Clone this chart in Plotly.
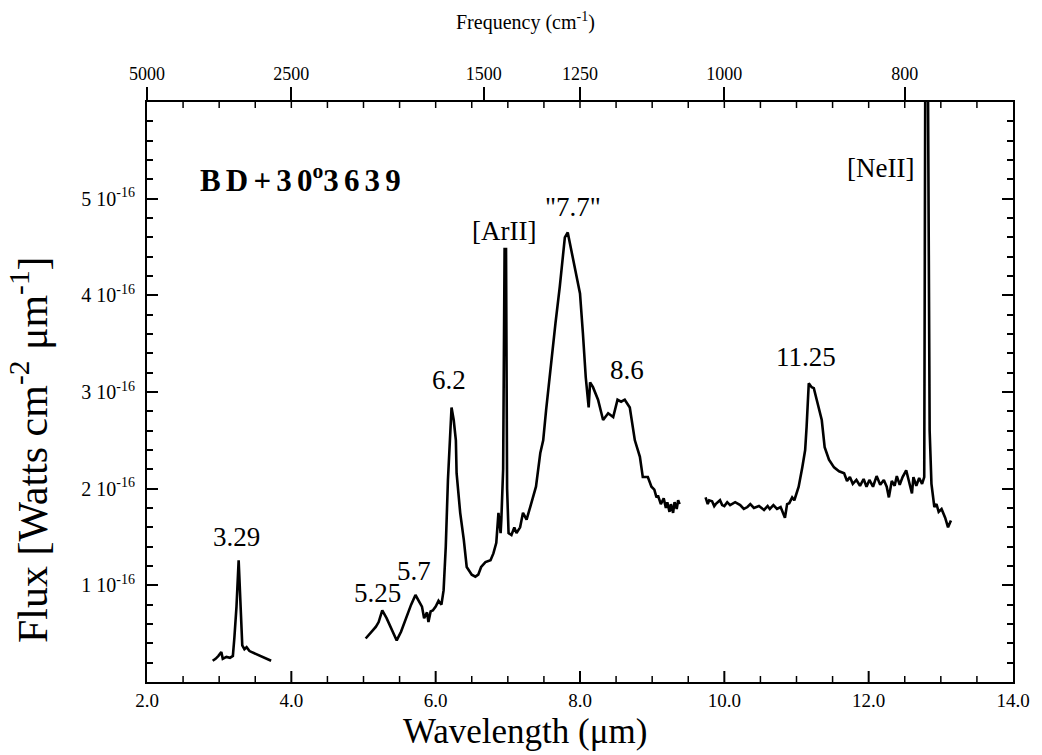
import numpy as np
import plotly.graph_objects as go

# ---- data (flux in units of 1e-16 W cm^-2 um^-1, wavelength in um) ----
wl_a = [2.91, 2.95, 2.99, 3.03, 3.05, 3.10, 3.15, 3.19, 3.21, 3.24, 3.27, 3.30,
        3.32, 3.35, 3.38, 3.42, 3.45, 3.50, 3.56, 3.63, 3.72]
flux_a = [0.22, 0.24, 0.27, 0.31, 0.24, 0.26, 0.25, 0.27, 0.45, 0.78, 1.26, 0.78,
          0.38, 0.34, 0.36, 0.32, 0.31, 0.29, 0.27, 0.25, 0.22]

wl_b = [5.03, 5.08, 5.12, 5.17, 5.21, 5.26, 5.32, 5.39, 5.46, 5.52, 5.59, 5.66,
        5.72, 5.77, 5.81, 5.84, 5.88, 5.90, 5.93, 5.96, 6.00, 6.04, 6.08, 6.11,
        6.14, 6.17, 6.21, 6.22, 6.25, 6.28, 6.29, 6.34, 6.39, 6.43, 6.50, 6.55,
        6.59, 6.63, 6.69, 6.76, 6.80, 6.84, 6.87, 6.90, 6.91, 6.935, 6.955, 6.975,
        6.99, 7.01, 7.05, 7.09, 7.12, 7.17, 7.21, 7.26, 7.31, 7.35, 7.39, 7.45,
        7.49, 7.53, 7.60, 7.66, 7.72, 7.79, 7.83, 7.87, 7.90, 7.93, 8.00, 8.04,
        8.08, 8.12, 8.14, 8.18, 8.25, 8.32, 8.39, 8.46, 8.52, 8.57, 8.62, 8.69,
        8.76, 8.83, 8.87, 8.94, 8.99, 9.03, 9.06, 9.08, 9.12, 9.16, 9.19, 9.21,
        9.24, 9.26, 9.29, 9.31, 9.34, 9.36, 9.38]
flux_b = [0.45, 0.49, 0.53, 0.57, 0.62, 0.74, 0.66, 0.54, 0.43, 0.52, 0.67, 0.80,
          0.90, 0.83, 0.78, 0.66, 0.72, 0.62, 0.73, 0.74, 0.78, 0.84, 0.80, 0.95,
          1.40, 2.09, 2.74, 2.84, 2.71, 2.50, 2.16, 1.75, 1.47, 1.19, 1.11, 1.09,
          1.11, 1.19, 1.24, 1.26, 1.33, 1.44, 1.75, 1.54, 1.68, 2.20, 4.48, 4.48,
          2.00, 1.54, 1.52, 1.60, 1.54, 1.60, 1.75, 1.68, 1.81, 1.91, 2.02, 2.37,
          2.50, 2.81, 3.33, 3.71, 4.09, 4.60, 4.65, 4.50, 4.40, 4.26, 4.02, 3.61,
          3.15, 2.84, 3.10, 3.05, 2.92, 2.71, 2.78, 2.74, 2.92, 2.90, 2.92, 2.84,
          2.50, 2.33, 2.12, 2.12, 2.02, 1.99, 1.91, 1.93, 1.84, 1.90, 1.80, 1.86,
          1.76, 1.84, 1.75, 1.86, 1.79, 1.88, 1.84]

wl_c = [9.74, 9.77, 9.79, 9.83, 9.86, 9.88, 9.94, 9.97, 10.00, 10.04, 10.08,
        10.15, 10.22, 10.27, 10.32, 10.36, 10.41, 10.48, 10.55, 10.60, 10.63,
        10.68, 10.73, 10.78, 10.84, 10.87, 10.90, 10.94, 10.97, 11.01, 11.03,
        11.08, 11.12, 11.14, 11.17, 11.21, 11.24, 11.28, 11.35, 11.39, 11.45,
        11.52, 11.59, 11.66, 11.70, 11.74, 11.78, 11.83, 11.88, 11.93, 11.97,
        12.01, 12.06, 12.11, 12.16, 12.21, 12.25, 12.28, 12.32, 12.36, 12.39,
        12.43, 12.47, 12.52, 12.57, 12.60, 12.62, 12.66, 12.70, 12.74, 12.77,
        12.785, 12.82, 12.845, 12.87, 12.91, 12.94, 12.97, 13.01, 13.06, 13.10,
        13.14]
flux_c = [1.91, 1.84, 1.88, 1.87, 1.82, 1.84, 1.88, 1.83, 1.82, 1.86, 1.83,
          1.86, 1.83, 1.79, 1.81, 1.84, 1.80, 1.82, 1.78, 1.82, 1.79,
          1.83, 1.79, 1.81, 1.70, 1.84, 1.85, 1.91, 1.88, 1.98, 2.02,
          2.22, 2.40, 2.64, 3.09, 3.05, 3.04, 2.92, 2.71, 2.43, 2.30,
          2.22, 2.18, 2.16, 2.08, 2.12, 2.05, 2.09, 2.03, 2.10, 2.02,
          2.09, 2.02, 2.13, 2.04, 2.09, 2.02, 1.91, 2.08, 2.03, 2.13,
          2.04, 2.12, 2.19, 2.05, 1.95, 2.12, 2.03, 2.11, 2.05, 2.12,
          6.50, 6.50, 2.60, 2.05, 1.81, 1.84, 1.76, 1.79, 1.70, 1.60,
          1.67]

wl_range = [2, 14]
wl_tick_step = 2
wl_minor_step = 0.5
freq_ticks = [5000, 2500, 1500, 1250, 1000, 800]
flux_ticks = [1, 2, 3, 4, 5]
flux_ticktext = [f"{v} 10<sup>-16</sup>" for v in flux_ticks]

feature_labels = ["3.29", "5.25", "5.7", "6.2", "[ArII]", "\"7.7\"", "8.6", "11.25", "[NeII]"]
label_wl = [3.24, 5.19, 5.70, 6.19, 6.94, 7.90, 8.65, 11.13, 12.17]
label_flux = [1.50, 0.92, 1.15, 3.12, 4.67, 4.91, 3.23, 3.36, 5.32]

FONT = "Liberation Serif, Times New Roman, Times, serif"
TICKC = "black"
W, H = 1042, 755
M = dict(l=147, r=25, t=102, b=73)
PLOT_H = H - M["t"] - M["b"]

fig = go.Figure()
for wl, fl in [(wl_a, flux_a), (wl_b, flux_b), (wl_c, flux_c)]:
    fig.add_trace(go.Scatter(x=wl, y=fl, mode="lines",
                             line=dict(color="black", width=2.6),
                             showlegend=False, hoverinfo="skip"))
# empty trace that activates the top frequency axis
fig.add_trace(go.Scatter(x=wl_range, y=[None, None], xaxis="x2", yaxis="y2", mode="lines",
                         showlegend=False, hoverinfo="skip"))

for t, x, y in zip(feature_labels, label_wl, label_flux):
    fig.add_annotation(x=x, y=y, text=t, showarrow=False,
                       font=dict(family=FONT, size=27, color="black"))

fig.add_annotation(x=2.70, y=5.21, xanchor="left",
                   text="<b>B\u2006D\u2006+\u20063\u20060<sup>o</sup>3\u20066\u20063\u20069</b>",
                   showarrow=False, font=dict(family=FONT, size=31, color="black"))

# axis titles (centred on the page as in the original)
fig.add_annotation(xref="paper", yref="paper", x=0.436, y=0, yanchor="top", yshift=-28,
                   text="Wavelength (μm)", showarrow=False,
                   font=dict(family=FONT, size=35, color="black"))
fig.add_annotation(xref="paper", yref="paper", x=0.437, y=1, yanchor="bottom", yshift=66,
                   text="Frequency (cm<sup>-1</sup>)", showarrow=False,
                   font=dict(family=FONT, size=20, color="black"))
fig.add_annotation(xref="paper", yref="paper", x=0, xanchor="center", xshift=-118,
                   y=0.40, yanchor="middle",
                   text="Flux [Watts cm<sup>-2</sup> μm<sup>-1</sup>]", textangle=-90,
                   showarrow=False, font=dict(family=FONT, size=42, color="black"))

# inward tick marks along the bottom and top edges (placed on the wavelength axis scale)
major_len = 11 / PLOT_H
minor_len = 6 / PLOT_H
all_minor = np.arange(wl_range[0] + wl_minor_step, wl_range[1], wl_minor_step)
for v in all_minor:
    is_major = abs((v - wl_range[0]) / wl_tick_step - round((v - wl_range[0]) / wl_tick_step)) < 1e-9
    ln = major_len if is_major else minor_len
    wd = 2 if is_major else 1.5
    fig.add_shape(type="line", xref="x", yref="paper", x0=v, x1=v, y0=0, y1=ln,
                  line=dict(color=TICKC, width=wd), layer="above")
    fig.add_shape(type="line", xref="x", yref="paper", x0=v, x1=v, y0=1, y1=1 - minor_len,
                  line=dict(color=TICKC, width=1.5), layer="above")

axis_common = dict(showgrid=False, zeroline=False, linecolor="black",
                   linewidth=2, tickcolor=TICKC)

fig.update_layout(
    width=W, height=H,
    margin=M,
    paper_bgcolor="white", plot_bgcolor="rgba(0,0,0,0)",
    font=dict(family=FONT, color="black"),
    xaxis=dict(range=wl_range, tickmode="linear", tick0=wl_range[0], dtick=wl_tick_step,
               tickformat=".1f", ticks="", mirror=True, showline=True,
               tickfont=dict(size=19), **axis_common),
    xaxis2=dict(range=wl_range, anchor="y2", side="top", tickmode="array",
                tickvals=[1e4 / f for f in freq_ticks],
                ticktext=[str(f) for f in freq_ticks],
                ticks="outside", ticklen=14, tickwidth=2, showline=False,
                tickfont=dict(size=18), **axis_common),
    yaxis=dict(range=[0, 6], tickmode="array", tickvals=flux_ticks, ticktext=flux_ticktext,
               ticks="inside", ticklen=11, tickwidth=2, mirror="ticks", showline=True,
               minor=dict(ticks="inside", dtick=0.2, tick0=0, ticklen=6, tickwidth=1.5,
                          tickcolor=TICKC, showgrid=False),
               tickfont=dict(size=20), ticklabelstandoff=6, **axis_common),
    yaxis2=dict(range=[0, 6], anchor="x2", overlaying="y", visible=False),
)

fig.write_html("out.html")
